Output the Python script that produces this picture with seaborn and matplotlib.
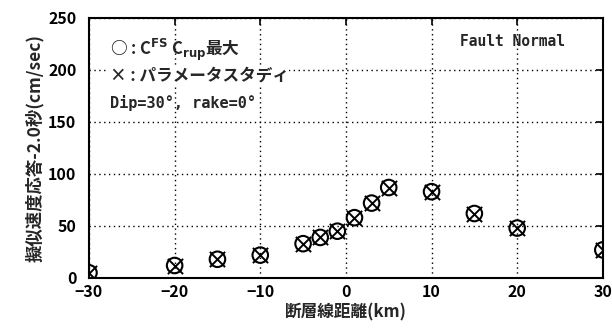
import matplotlib
matplotlib.use("Agg")
import matplotlib.pyplot as plt
import seaborn as sns
import pandas as pd

distance_km = [-30, -20, -15, -10, -5, -3, -1, 1, 3, 5, 10, 15, 20, 30]
cfs_max = [5, 12, 18, 22, 33, 39, 45, 58, 72, 87, 83, 62, 48, 27]
param_study = [5, 12, 18, 22, 33, 39, 45, 58, 72, 87, 83, 62, 48, 27]
x_ticks = [-30, -20, -10, 0, 10, 20, 30]
y_ticks = [0, 50, 100, 150, 200, 250]

sns.set_theme(style="white")
FONT = ['Noto Sans CJK JP', 'DejaVu Sans']
MONO = ['DejaVu Sans Mono', 'Noto Sans CJK JP']
plt.rcParams['font.family'] = FONT
plt.rcParams['font.weight'] = 'bold'
plt.rcParams['mathtext.default'] = 'bf'

df = pd.DataFrame({"d": distance_km, "c": cfs_max, "p": param_study})

fig = plt.figure(figsize=(6.12, 3.32), dpi=100)
ax = fig.add_axes([0.1454, 0.1627, 0.985 - 0.1454, 0.9458 - 0.1627])

sns.scatterplot(data=df, x="d", y="c", ax=ax, marker="o", s=125,
                facecolor="none", edgecolor="black", linewidth=1.5, zorder=3)
sns.scatterplot(data=df, x="d", y="p", ax=ax, marker="x", s=120,
                color="black", linewidth=1.4, zorder=4)

ax.set_xlim(-30, 30)
ax.set_ylim(0, 250)
ax.set_xticks(x_ticks)
ax.set_yticks(y_ticks)
ax.grid(True, color="black", linestyle=(0, (1, 2.5)), linewidth=1.0)
for s in ax.spines.values():
    s.set_color("black")
    s.set_linewidth(1.5)
ax.tick_params(direction="in", length=5, width=1.2, colors="black",
               labelsize=11.5, top=True, right=True)
ax.tick_params(axis="y", pad=9)
ax.tick_params(axis="x", pad=4)
for lab in ax.get_xticklabels() + ax.get_yticklabels():
    lab.set_fontweight("bold")

ax.set_xlabel("断層線距離(km)", fontsize=12, fontweight="bold", labelpad=3)
ax.set_ylabel("擬似速度応答-2.0秒(cm/sec)", fontsize=12.5, fontweight="bold", labelpad=3)

ax.text(0.04, 0.877, "○ : C$^{\\mathbf{FS}}$ C$_{\\mathbf{rup}}$最大", transform=ax.transAxes,
        fontsize=12, fontweight="bold", va="center", ha="left")
ax.text(0.04, 0.78, "× : パラメータスタディ", transform=ax.transAxes,
        fontsize=12, fontweight="bold", va="center", ha="left",
        bbox=dict(facecolor="white", edgecolor="none", pad=0.5))
ax.text(0.04, 0.673, "Dip=30°, rake=0°", transform=ax.transAxes,
        fontsize=11, fontweight="bold", va="center", ha="left", family=MONO)
ax.text(0.926, 0.908, "Fault Normal", transform=ax.transAxes,
        fontsize=10.5, fontweight="bold", va="center", ha="right", family=MONO)

fig.savefig("out.png", dpi=100, facecolor="white")
